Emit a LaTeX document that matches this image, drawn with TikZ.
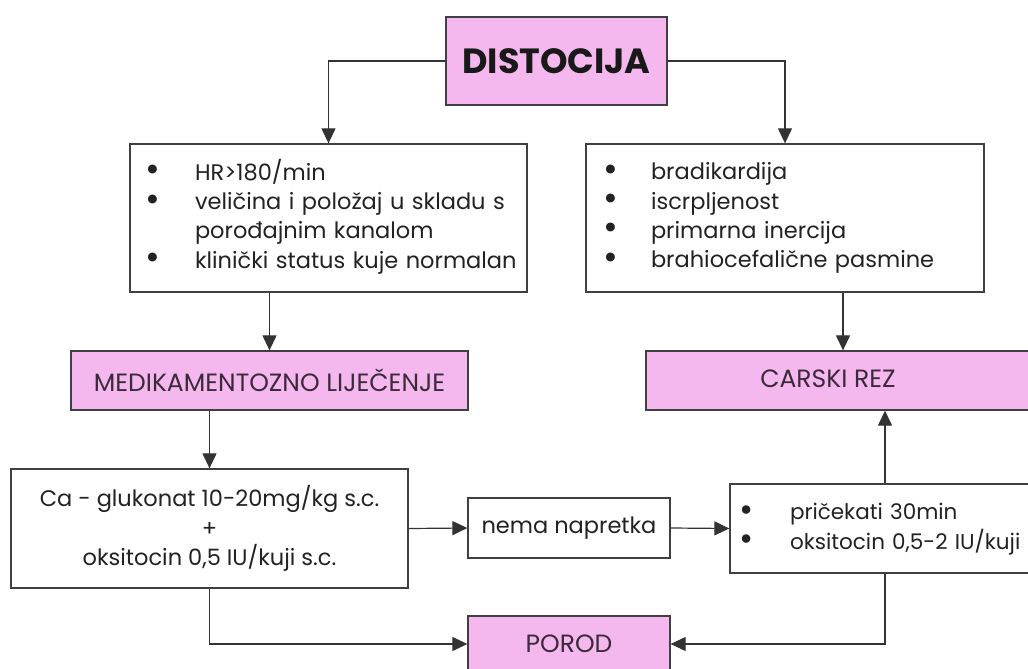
\documentclass[tikz,border=0pt]{standalone}
\usepackage{fontspec}
\setmainfont{Poppins}
\usetikzlibrary{arrows.meta}
\definecolor{pinkfill}{HTML}{F5B8EE}
\definecolor{pinktext}{HTML}{3A2A3A}
\definecolor{bodytext}{HTML}{222222}
\newcommand{\bul}{\raisebox{-0.12ex}[0pt][0pt]{\scalebox{1.6}{\textbullet}}}
\begin{document}
\begin{tikzpicture}[x=1pt,y=-1pt,
  box/.style={draw=black!75, line width=1.3pt, fill=white, inner sep=0pt, text=bodytext},
  pinkbox/.style={box, fill=pinkfill, text=pinktext, font=\fontsize{25}{30}\selectfont},
  conn/.style={draw=black!80, line width=1.2pt, -{Triangle[length=15pt,width=14pt]}},
  body/.style={font=\fontsize{22.5}{29.3}\selectfont}]
\useasboundingbox (0,0) rectangle (1028,669);
\clip (0,0) rectangle (1028,669);
\fill[white] (0,0) rectangle (1028,669);

\node[pinkbox, minimum width=221pt, minimum height=88pt, text=black!90, font=\fontsize{35}{40}\selectfont\bfseries] (dist) at (556.5,61) {DISTOCIJA};

\node[box, body, inner xsep=15pt, text width=367pt, minimum height=148pt, align=left] (left) at (328.5,218)
  {\begin{tabular}{@{}p{50pt}@{}l@{}}
   \bul & HR>180/min\\
   \bul & veličina i položaj u skladu s\\
        & porođajnim kanalom\\
   \bul & klinički status kuje normalan
   \end{tabular}};

\node[box, body, inner xsep=17pt, text width=364pt, minimum height=148pt, align=left] (right) at (785,218)
  {\begin{tabular}{@{}p{48pt}@{}l@{}}
   \bul & bradikardija\\
   \bul & iscrpljenost\\
   \bul & primarna inercija\\
   \bul & brahiocefalične pasmine
   \end{tabular}};

\node[pinkbox, minimum width=397pt, minimum height=59pt] (medik) at (269.5,380.5) {MEDIKAMENTOZNO LIJEČENJE};

\node[pinkbox, minimum width=394pt, minimum height=59pt] (carski) at (843,380.5) {};
\node[text=pinktext, font=\fontsize{25}{30}\selectfont, inner sep=0pt] (carskitext) at (828,379) {CARSKI REZ};

\node[box, body, minimum width=397pt, minimum height=119pt, align=center] (ca) at (209.5,528.5)
  {Ca - glukonat 10-20mg/kg s.c.\\+\\oksitocin 0,5 IU/kuji s.c.};

\node[box, body, minimum width=202pt, minimum height=60pt] (nema) at (569,528) {nema napretka};

\node[box, font=\fontsize{21.5}{29.3}\selectfont, inner xsep=9pt, text width=292pt, minimum height=89pt, align=left] (pricek) at (885,528.5)
  {\begin{tabular}{@{}p{51pt}@{}l@{}}
   \bul & pričekati 30min\\
   \bul & oksitocin 0,5-2 IU/kuji
   \end{tabular}};

\node[pinkbox, minimum width=202pt, minimum height=56pt] (porod) at (569,644) {POROD};

\draw[conn] (dist.west) -| (left.north);
\draw[conn] (dist.east) -| (right.north);
\draw[conn] (medik.north |- left.south) -- (medik.north);
\draw[conn] (carski.north |- right.south) -- (carski.north);
\draw[conn] (ca.north |- medik.south) -- (ca.north);
\draw[conn] (ca.east) -- (nema.west);
\draw[conn] (nema.east) -- (pricek.west);
\draw[conn] (pricek.north) -- (pricek.north |- carski.south);
\draw[conn] (ca.south) |- (porod.west);
\draw[conn] (pricek.south) |- (porod.east);
\end{tikzpicture}
\end{document}
